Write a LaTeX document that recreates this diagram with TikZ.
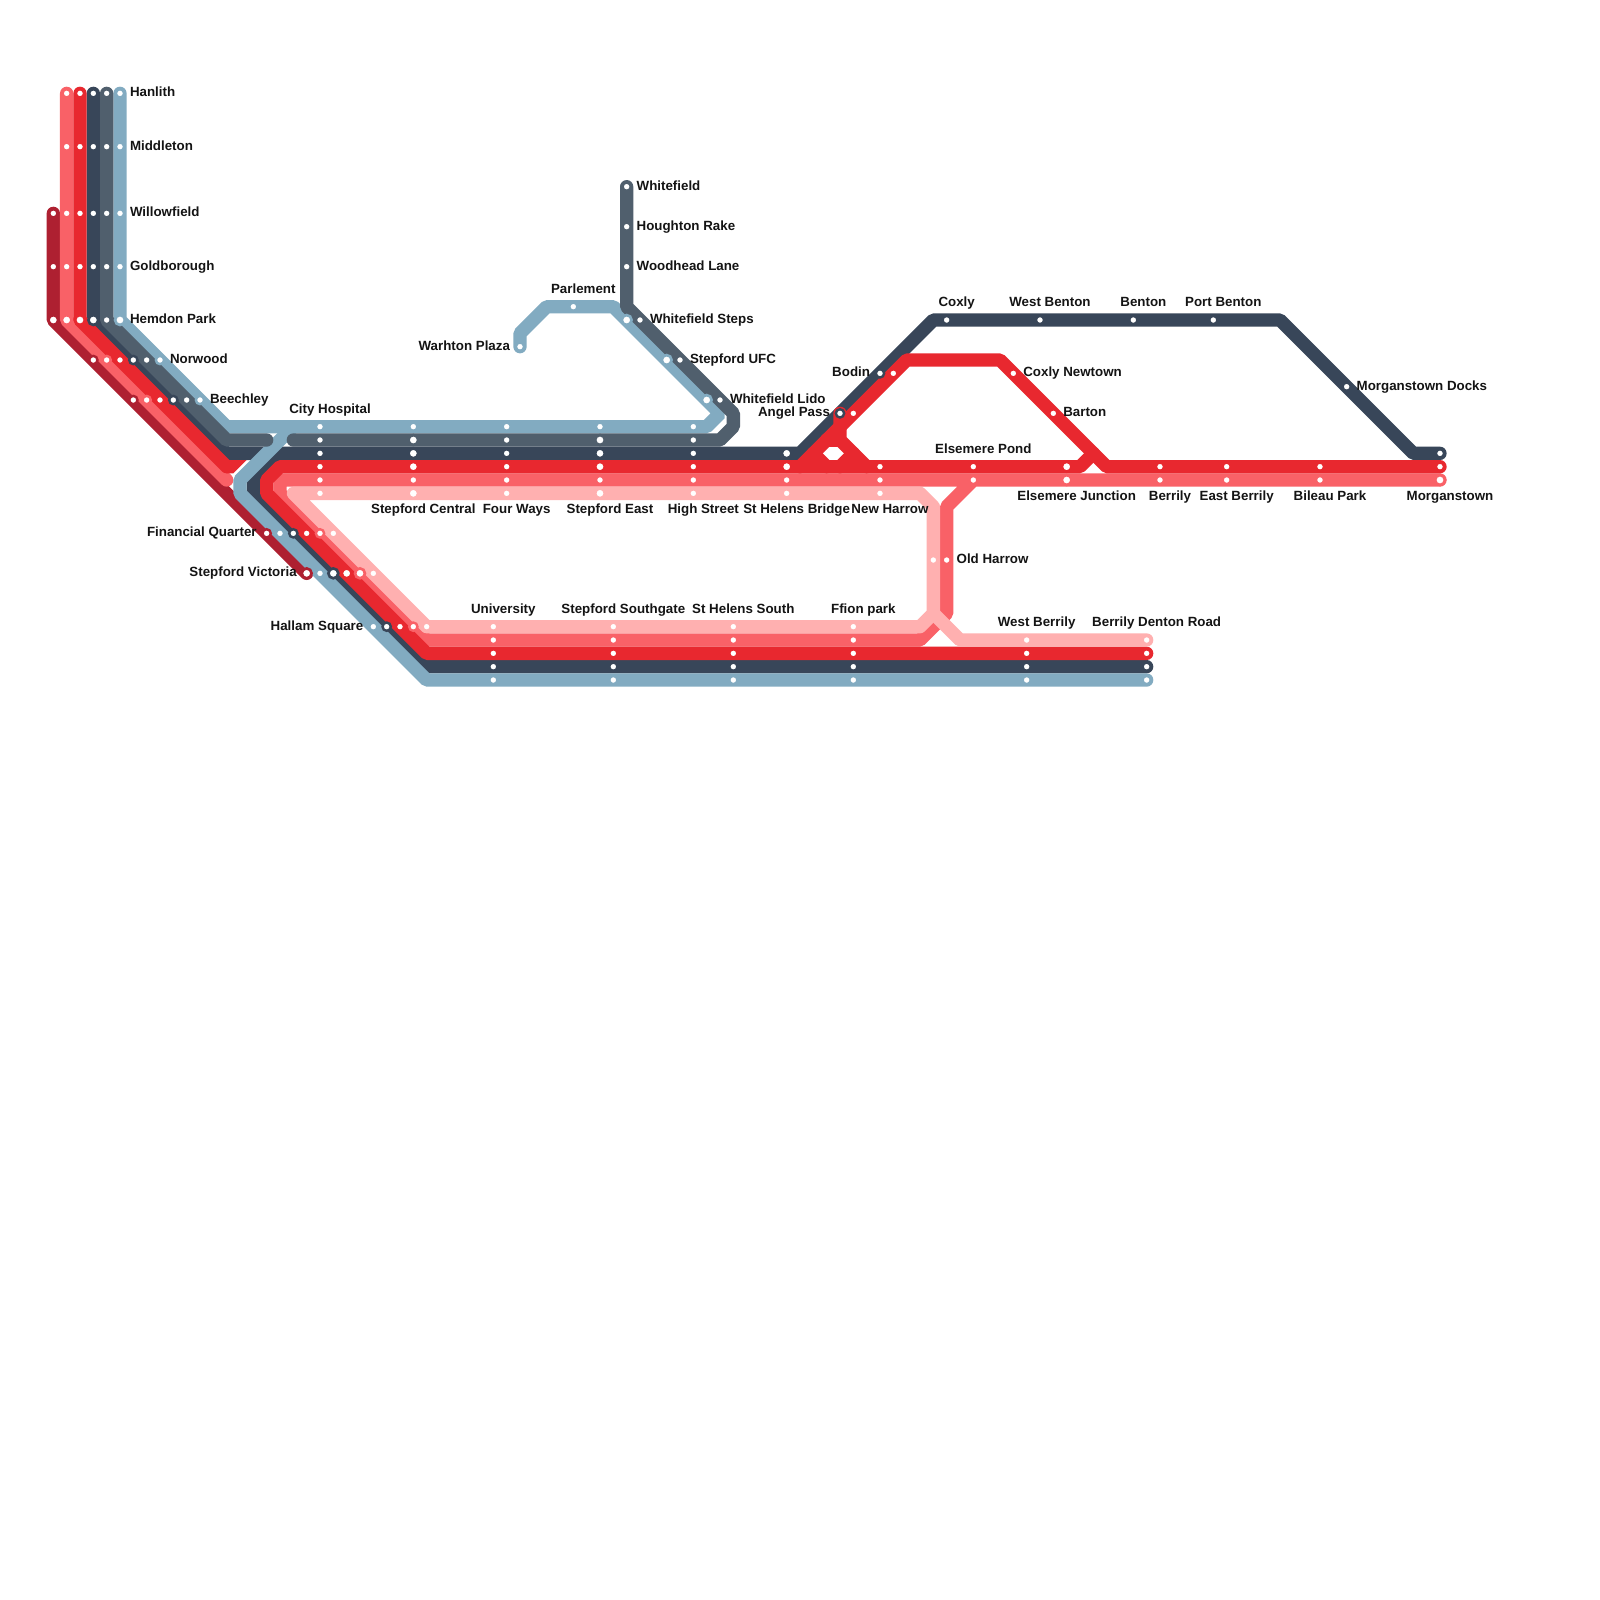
\documentclass[tikz,border=0pt]{standalone}
\usepackage{fontspec}
\setmainfont{Liberation Sans}
\definecolor{darkredc}{HTML}{AE2031}
\definecolor{coralc}{HTML}{F96167}
\definecolor{redc}{HTML}{E8282F}
\definecolor{navyc}{HTML}{384659}
\definecolor{slatec}{HTML}{505F6D}
\definecolor{skyc}{HTML}{82ABC1}
\definecolor{pinkc}{HTML}{FFB0B0}
\tikzset{
  metro/.style={line width=1mm,line cap=round,line join=bevel,draw=#1},
  stn/.style={circle,fill=white,draw=#1,line width=0.18mm,minimum size=0.62mm,inner sep=0pt,outer sep=0pt},
  stnb/.style={circle,fill=white,draw=#1,line width=0.2mm,minimum size=0.74mm,inner sep=0pt,outer sep=0pt},
  lbl/.style={font=\fontsize{2.845}{3.4}\selectfont\bfseries,text=black!92,inner sep=0pt},
  lblr/.style={lbl,anchor=base west},
  lbll/.style={lbl,anchor=base east},
  lblc/.style={lbl,anchor=base},
}
\newcommand{\stops}[3]{%
  \foreach \sx/\sy in {#2} {\node[stn=#1] (#1-\sx-\sy) at (\sx,\sy) {};}
  \foreach \sx/\sy in {#3} {\node[stnb=#1] (#1-\sx-\sy) at (\sx,\sy) {};}}
\begin{document}
\begin{tikzpicture}[x=1mm,y=-1mm]
  \useasboundingbox (0,0) rectangle (120,120);
  \fill[white] (0,0) rectangle (120,120);
  \draw[metro=darkredc] (4,16) -- (4,24) -- (23,43);
  \draw[metro=coralc] (5,7) -- (5,24) -- (17,36);
  \draw[metro=coralc] (108,36) -- (21,36) -- (21,37) -- (32,48) -- (69,48) -- (71,46) -- (71,38) -- (73,36);
  \draw[metro=navyc] (7,7) -- (7,24) -- (17,34) -- (20,34);
  \draw[metro=navyc] (108,34) -- (106,34) -- (96,24) -- (70,24) -- (60,34) -- (21,34) -- (19,36) -- (19,37) -- (32,50) -- (86,50);
  \draw[metro=skyc] (39,26) -- (39,25) -- (41,23) -- (46,23) -- (54,31) -- (53,32) -- (17,32) -- (9,24) -- (9,7);
  \draw[metro=skyc] (86,51) -- (32,51) -- (18,37) -- (18,36) -- (22,32);
  \draw[metro=slatec] (8,7) -- (8,24) -- (17,33) -- (20,33);
  \draw[metro=slatec] (47,14) -- (47,23) -- (55,31) -- (55,32) -- (54,33) -- (22,33);
  \draw[metro=redc] (6,7) -- (6,24) -- (17,35);
  \fill[redc] (17,34.5) -- (18.5,34.5) -- (17.5,35.5) -- (17,35.5) -- cycle;
  \draw[metro=redc] (86,49) -- (32,49) -- (20,37) -- (20,36) -- (21,35) -- (81,35) -- (82,34);
  \draw[metro=redc] (60,35) -- (68,27) -- (75,27) -- (83,35) -- (108,35);
  \draw[metro=redc] (63,31) -- (63,33) -- (65,35);
  \draw[metro=redc] (62,33) -- (63,33);
  \draw[metro=redc] (61,34) -- (62,35);
  \draw[metro=redc] (64,34) -- (63,35);
  \draw[metro=pinkc,line join=round] (22,37) -- (69,37) -- (70,38) -- (70,46) -- (69,47) -- (32,47) -- cycle;
  \draw[metro=pinkc] (70,46) -- (72,48) -- (86,48);
  \stops{darkredc}{4/16,4/20,7/27,10/30,20/40}{4/24,23/43}
  \stops{coralc}{5/7,5/11,5/16,5/20,8/27,11/30,24/40,31/47,24/36,31/36,38/36,45/36,52/36,59/36,66/36,73/36,87/36,92/36,99/36,71/42,37/48,46/48,55/48,64/48}{5/24,27/43,80/36,108/36}
  \stops{redc}{6/7,6/11,6/16,6/20,9/27,12/30,23/40,30/47,24/35,38/35,52/35,66/35,73/35,87/35,92/35,99/35,108/35,67/28,64/31,76/28,79/31,37/49,46/49,55/49,64/49,77/49,86/49}{6/24,26/43,31/35,45/35,59/35,80/35}
  \stops{navyc}{7/7,7/11,7/16,7/20,10/27,13/30,22/40,29/47,24/34,38/34,52/34,108/34,71/24,78/24,85/24,91/24,101/29,66/28,63/31,37/50,46/50,55/50,64/50,77/50,86/50}{7/24,25/43,31/34,45/34,59/34}
  \stops{slatec}{8/7,8/11,8/16,8/20,8/24,11/27,14/30,24/33,38/33,52/33,47/14,47/17,47/20,48/24,51/27,54/30}{31/33,45/33}
  \stops{skyc}{9/7,9/11,9/16,9/20,12/27,15/30,21/40,24/43,28/47,24/32,31/32,38/32,45/32,52/32,43/23,39/26,37/51,46/51,55/51,64/51,77/51,86/51}{9/24,47/24,50/27,53/30}
  \stops{pinkc}{25/40,28/43,32/47,24/37,38/37,52/37,59/37,66/37,70/42,37/47,46/47,55/47,64/47,77/48,86/48}{31/37,45/37}
  \foreach \lx/\ly/\ltxt in {9/7/Hanlith,9/11/Middleton,9/16/Willowfield,9/20/Goldborough,9/24/Hemdon Park,12/27/Norwood,15/30/Beechley,47/14/Whitefield,47/17/Houghton Rake,47/20/Woodhead Lane,48/24/Whitefield Steps,51/27/Stepford UFC,54/30/Whitefield Lido,76/28/Coxly Newtown,79/31/Barton,101/29/Morganstown Docks,71/42/Old Harrow}
    {\node[lblr] (r-\lx-\ly) at (\lx+.68,\ly+.25) {\ltxt};}
  \foreach \lx/\ly/\ltxt in {39/26/Warhton Plaza,66/28/Bodin,63/31/Angel Pass,20/40/Financial Quarter,23/43/Stepford Victoria,28/47/Hallam Square}
    {\node[lbll] (l-\lx-\ly) at (\lx-.68,\ly+.25) {\ltxt};}
  \foreach \lx/\ly/\ltxt in {43/23/Parlement,24/32/City Hospital,37/47/University,46/47/Stepford Southgate,55/47/St Helens South,64/47/Ffion park,77/48/West Berrily,86/48/Berrily Denton Road,71/24/Coxly,78/24/West Benton,85/24/Benton,91/24/Port Benton,73/35/Elsemere Pond}
    {\node[lblc] (t-\lx-\ly) at (\lx+.75,\ly-1) {\ltxt};}
  \foreach \lx/\ly/\ltxt in {31/37/Stepford Central,38/37/Four Ways,45/37/Stepford East,52/37/High Street,59/37/St Helens Bridge,66/37/New Harrow,80/36/Elsemere Junction,87/36/Berrily,92/36/East Berrily,99/36/Bileau Park,108/36/Morganstown}
    {\node[lblc] (b-\lx-\ly) at (\lx+.75,\ly+1.5) {\ltxt};}
\end{tikzpicture}
\end{document}
